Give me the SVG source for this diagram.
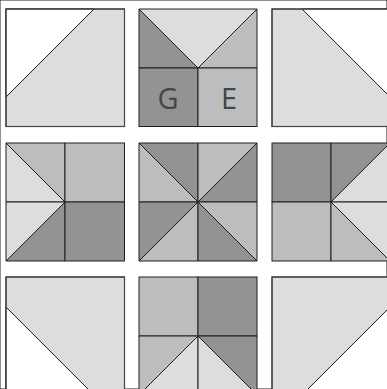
<svg xmlns="http://www.w3.org/2000/svg" width="387" height="389" viewBox="0 0 387 389">
<style>
.l{fill:#dcdddd}.m{fill:#bcbdbf}.d{fill:#939393}.w{fill:#ffffff}
polygon,rect{stroke:#1e1e1e;stroke-width:1;stroke-linejoin:miter}
.o{fill:none;stroke:#444;stroke-width:1.2}
text{font-family:"Open Sans","Liberation Sans",sans-serif;font-size:29px;fill:#464646;text-anchor:middle}
</style>
<rect width="387" height="389" fill="#ffffff" stroke="none"/>
<g id="block-r1c1">
<rect class="l" x="6" y="9" width="118.5" height="117.5"/>
<polygon class="w" points="6,9 94,9 6,97"/>
<rect class="o" x="6" y="9" width="118.5" height="117.5"/>
</g>
<g id="block-r1c2">
<polygon class="l" points="139,9 257,9 198,68"/>
<polygon class="d" points="139,9 198,68 139,68"/>
<polygon class="m" points="257,9 257,68 198,68"/>
<rect class="d" x="139" y="68" width="59" height="58.5"/>
<rect class="m" x="198" y="68" width="59" height="58.5"/>
<text x="168" y="109">G</text>
<text x="229" y="109">E</text>
</g>
<g id="block-r1c3">
<rect class="l" x="272" y="9" width="118" height="117.5"/>
<polygon class="w" points="302,9 390,9 390,97"/>
<rect class="o" x="272" y="9" width="118" height="117.5"/>
</g>
<g id="block-r2c1">
<polygon class="m" points="6,143 65,143 65,202"/>
<polygon class="l" points="6,143 65,202 6,202"/>
<rect class="m" x="65" y="143" width="59.5" height="59"/>
<polygon class="l" points="6,202 65,202 6,261"/>
<polygon class="d" points="65,202 65,261 6,261"/>
<rect class="d" x="65" y="202" width="59.5" height="59"/>
</g>
<g id="block-r2c2">
<polygon class="d" points="139,143 198,143 198,202"/>
<polygon class="m" points="139,143 198,202 139,202"/>
<polygon class="m" points="198,143 257,143 198,202"/>
<polygon class="d" points="257,143 257,202 198,202"/>
<polygon class="d" points="139,202 198,202 139,261"/>
<polygon class="m" points="198,202 198,261 139,261"/>
<polygon class="m" points="198,202 257,202 257,261"/>
<polygon class="d" points="198,202 257,261 198,261"/>
</g>
<g id="block-r2c3">
<rect class="d" x="272" y="143" width="59" height="59"/>
<polygon class="d" points="331,143 390,143 331,202"/>
<polygon class="l" points="390,143 390,202 331,202"/>
<rect class="m" x="272" y="202" width="59" height="59"/>
<polygon class="l" points="331,202 390,202 390,261"/>
<polygon class="m" points="331,202 390,261 331,261"/>
</g>
<g id="block-r3c1">
<rect class="l" x="6" y="277" width="118.5" height="118"/>
<polygon class="w" points="6,307 94,395 6,395"/>
<rect class="o" x="6" y="277" width="118.5" height="118"/>
</g>
<g id="block-r3c2">
<rect class="m" x="139" y="277" width="59" height="59"/>
<rect class="d" x="198" y="277" width="59" height="59"/>
<polygon class="m" points="139,336 198,336 139,395"/>
<polygon class="l" points="198,336 198,395 139,395"/>
<polygon class="d" points="198,336 257,336 257,395"/>
<polygon class="l" points="198,336 257,395 198,395"/>
</g>
<g id="block-r3c3">
<rect class="l" x="272" y="277" width="118" height="118"/>
<polygon class="w" points="390,307 390,395 302,395"/>
<rect class="o" x="272" y="277" width="118" height="118"/>
</g>
<g id="connectors"/>
</svg>
